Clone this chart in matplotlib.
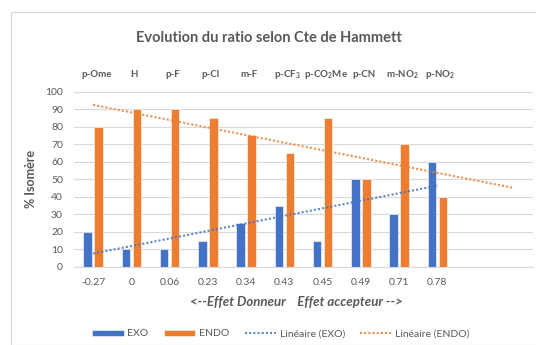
import numpy as np
import matplotlib.pyplot as plt
from matplotlib.patches import Rectangle

plt.rcParams['font.family'] = ['Lato', 'DejaVu Sans']
plt.rcParams['mathtext.default'] = 'regular'

substituants = ['p-Ome', 'H', 'p-F', 'p-Cl', 'm-F', 'p-CF$_3$', 'p-CO$_2$Me',
                'p-CN', 'm-NO$_2$', 'p-NO$_2$']
sigma = ['-0.27', '0', '0.06', '0.23', '0.34', '0.43', '0.45', '0.49', '0.71', '0.78']
exo = [20, 10, 10, 15, 25, 35, 15, 50, 30, 60]
endo = [80, 90, 90, 85, 75, 65, 85, 50, 70, 40]

c_exo = '#4472C4'
c_endo = '#ED7D31'
gris = '#595959'

fig = plt.figure(figsize=(5.36, 3.45), dpi=100)
W, H = 536, 345

# cadre du graphique
fig.patches.append(Rectangle((10.5 / W, 0), 1, 1 - 12 / H, transform=fig.transFigure,
                             fill=False, edgecolor='#D9D9D9', lw=0.8))

ax = fig.add_axes([74 / W, 1 - 267 / H, (533 - 74) / W, (267 - 91.5) / H])

x = np.arange(len(exo))
bw = 0.225
b_exo = ax.bar(x - 0.145, exo, bw, color=c_exo, edgecolor='white', lw=0.4, label='EXO', zorder=2)
b_endo = ax.bar(x + 0.145, endo, bw, color=c_endo, edgecolor='white', lw=0.4, label='ENDO', zorder=2)

# courbes de tendance linéaires (x = 1..n comme dans Excel)
n = np.arange(1, len(exo) + 1)
a1, b1 = np.polyfit(n, exo, 1)
a2, b2 = np.polyfit(n, endo, 1)
t1 = np.linspace(1, 10, 50)
t2 = np.linspace(1, 12, 50)
l_exo, = ax.plot(t1 - 1, a1 * t1 + b1, color=c_exo, ls=(0, (1, 1)), lw=1.5, alpha=0.85,
                 label='Linéaire (EXO)', zorder=3)
l_endo, = ax.plot(t2 - 1, a2 * t2 + b2, color=c_endo, ls=(0, (1, 1)), lw=1.5, alpha=0.85,
                  label='Linéaire (ENDO)', zorder=3)

ax.set_xlim(-0.5, 11.5)
ax.set_ylim(0, 100)
ax.set_yticks(range(0, 101, 10))
ax.set_xticks(x)
ax.set_xticklabels(sigma)
ax.tick_params(length=0, labelsize=7.5, labelcolor=gris)
ax.tick_params(axis='y', pad=8)
ax.tick_params(axis='x', pad=8)
ax.grid(axis='y', color='#D9D9D9', lw=0.8, zorder=0)
for s in ['top', 'right', 'left']:
    ax.spines[s].set_visible(False)
ax.spines['bottom'].set_color('#D9D9D9')

for i, s in enumerate(substituants):
    ax.text(i + 0.08, 1.095, s, transform=ax.get_xaxis_transform(), ha='center', va='center',
            fontsize=7, fontweight='bold', color=gris)

ax.set_ylabel('% Isomère', fontsize=9, fontweight='bold', color=gris, labelpad=6)
fig.text(296 / W, 1 - 302 / H, '<--Effet Donneur    Effet accepteur -->', ha='center',
         va='center', fontsize=9.5, fontweight='bold', style='italic', color=gris)
fig.text(269 / W, 1 - 38 / H, 'Evolution du ratio selon Cte de Hammett', ha='center',
         va='center', fontsize=10.5, fontweight='bold', color=gris)

fig.legend([b_exo, b_endo, l_exo, l_endo], ['EXO', 'ENDO', 'Linéaire (EXO)', 'Linéaire (ENDO)'],
           loc='center', bbox_to_anchor=(281 / W, 1 - 334 / H), ncol=4, frameon=False,
           fontsize=7.5, labelcolor=gris, handlelength=3.0, handleheight=0.5,
           columnspacing=1.5, handletextpad=0.35)

fig.savefig('out.png', dpi=100)
